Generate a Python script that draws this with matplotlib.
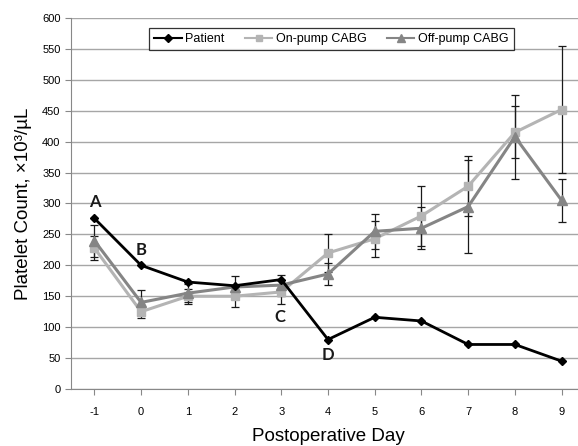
import matplotlib
matplotlib.use("Agg")
import matplotlib.pyplot as plt
from matplotlib.lines import Line2D

days = [-1, 0, 1, 2, 3, 4, 5, 6, 7, 8, 9]
patient = [276, 200, 173, 167, 177, 80, 116, 110, 72, 72, 45]
on_pump = [228, 125, 150, 150, 157, 220, 243, 280, 328, 415, 452]
on_pump_err = [19, 10, 12, 17, 20, 30, 29, 48, 49, 42, 103]
off_pump = [240, 140, 155, 165, 168, 186, 255, 260, 295, 408, 305]
off_pump_err = [26, 20, 15, 18, 17, 17, 28, 34, 75, 68, 35]
labels = ["Patient", "On-pump CABG", "Off-pump CABG"]
annotations = [("A", -1, 302), ("B", 0, 225), ("C", 2.96, 116), ("D", 3.99, 55)]
yticks = list(range(0, 601, 50))

plt.rcParams['font.family'] = ['Liberation Sans', 'DejaVu Sans']

fig = plt.figure(figsize=(5.78, 4.46), dpi=100)
ax = fig.add_axes([71/578, 1-389/446, (585-71)/578, (389-18)/446])

c_pat = "#000000"
c_on = "#b4b4b4"
c_off = "#858585"

ax.errorbar(days, on_pump, yerr=on_pump_err, fmt='none', ecolor='#1a1a1a',
            elinewidth=0.9, capsize=3, capthick=0.9, zorder=3)
ax.errorbar(days, off_pump, yerr=off_pump_err, fmt='none', ecolor='#1a1a1a',
            elinewidth=0.9, capsize=3, capthick=0.9, zorder=3)

ax.plot(days, on_pump, color=c_on, lw=2.2, marker='s', ms=6, mec=c_on, mfc=c_on, zorder=4)
ax.plot(days, off_pump, color=c_off, lw=2.2, marker='^', ms=7, mec=c_off, mfc=c_off, zorder=5)
ax.plot(days, patient, color=c_pat, lw=2.0, marker='D', ms=4, mec=c_pat, mfc=c_pat, zorder=6)

ax.set_xlim(-1.5, 9.5)
ax.set_ylim(0, 600)
ax.set_yticks(yticks)
ax.set_xticks(days)
ax.set_xticklabels([str(d) for d in days])
ax.grid(axis='y', color='#a6a6a6', lw=1.0)
ax.set_axisbelow(True)
for s in ['top', 'right']:
    ax.spines[s].set_visible(False)
ax.spines['left'].set_color('#888888')
ax.spines['bottom'].set_color('#888888')
ax.tick_params(axis='both', labelsize=8, color='#888888', length=4, width=0.8)
ax.tick_params(axis='x', pad=9)

ax.set_ylabel("Platelet Count, ×10³/µL", fontsize=13.5, labelpad=7)
ax.set_xlabel("Postoperative Day", fontsize=13.5, labelpad=8)

for t, x, y in annotations:
    ax.text(x, y, t, fontsize=12, fontweight='bold', family=['Lato', 'DejaVu Sans'],
            ha='center', va='center', color='#1a1a1a')

handles = [
    Line2D([], [], color=c_pat, lw=1.5, marker='D', ms=4),
    Line2D([], [], color=c_on, lw=1.5, marker='s', ms=5),
    Line2D([], [], color=c_off, lw=1.5, marker='^', ms=6),
]
leg = fig.legend(handles, labels, loc='upper left', bbox_to_anchor=(143/578, 1-22/446),
                 ncol=3, fontsize=9, frameon=True, fancybox=False, edgecolor='black',
                 handlelength=2.2, handletextpad=0.3, columnspacing=1.6,
                 borderpad=0.4)
leg.get_frame().set_linewidth(0.9)

fig.savefig("out.png", dpi=100)
